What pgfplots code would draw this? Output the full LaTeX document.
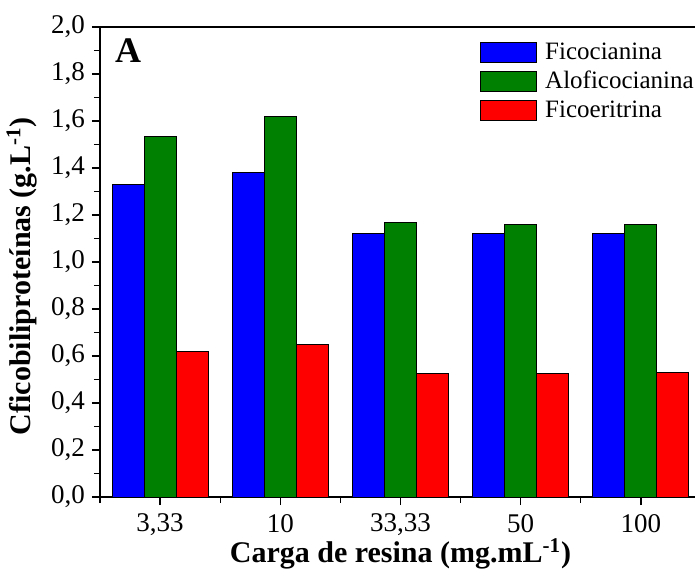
\documentclass[border=0pt]{standalone}
\usepackage{fontspec}
\setmainfont{Liberation Serif}
\usepackage{pgfplots}
\pgfplotsset{compat=1.18}

\definecolor{cblue}{RGB}{0,0,255}
\definecolor{cgreen}{RGB}{0,128,0}
\definecolor{cred}{RGB}{255,0,0}

\begin{document}
\begin{tikzpicture}
\begin{axis}[
  scale only axis,
  width=300.5pt, height=235pt,
  ybar=0pt,
  bar width=0.2667,
  xmin=-0.5, xmax=4.5,
  ymin=0, ymax=2,
  xtick={0,1,2,3,4},
  xticklabels={{3,33},10,{33,33},50,100},
  minor xtick={-0.5,0.5,1.5,2.5,3.5,4.5},
  ytick={0,0.2,...,2.0},
  minor ytick={0.1,0.3,...,1.9},
  xtick pos=bottom, ytick pos=left,
  tick align=outside,
  major tick length=4pt, minor tick length=3pt,
  tick style={black, line width=0.6pt},
  axis line style={line width=0.75pt},
  yticklabel style={/pgf/number format/.cd, fixed, fixed zerofill, precision=1, use comma, assume math mode=true},
  ticklabel style={font=\fontsize{13.5}{16}\selectfont},
  xticklabel style={yshift=-1pt},
  xlabel={\textbf{Carga de resina (mg.mL\textsuperscript{-1})}},
  ylabel={\textbf{Cficobiliproteínas (g.L\textsuperscript{-1})}},
  label style={font=\fontsize{15}{17}\selectfont},
  xlabel style={at={(axis description cs:0.5,-0.14)}, anchor=base},
  ylabel style={at={(axis description cs:-0.13,0.47)}, anchor=center},
  legend style={draw=none, fill=none, at={(axis description cs:0.622,0.985)}, anchor=north west,
    font=\fontsize{12.5}{14}\selectfont, row sep=0.5pt,
    /tikz/every odd column/.append style={column sep=2pt}},
  legend cell align=left,
  legend image code/.code={\draw[#1, draw=black, line width=0.5pt] (0pt,-5pt) rectangle (28pt,5pt);},
]
\addplot[fill=cblue, draw=black, line width=0.5pt] coordinates {(0,1.33) (1,1.38) (2,1.12) (3,1.12) (4,1.12)};
\addplot[fill=cgreen, draw=black, line width=0.5pt] coordinates {(0,1.535) (1,1.62) (2,1.17) (3,1.16) (4,1.16)};
\addplot[fill=cred, draw=black, line width=0.5pt] coordinates {(0,0.62) (1,0.65) (2,0.525) (3,0.527) (4,0.53)};
\legend{Ficocianina,Aloficocianina,Ficoeritrina}
\node[font=\fontsize{18}{20}\selectfont\bfseries, anchor=center] at (axis description cs:0.047,0.95) {A};
\end{axis}
\pgfresetboundingbox
\useasboundingbox (-50pt,-35.5pt) rectangle (297.5pt,248.5pt);
\end{tikzpicture}
\end{document}
